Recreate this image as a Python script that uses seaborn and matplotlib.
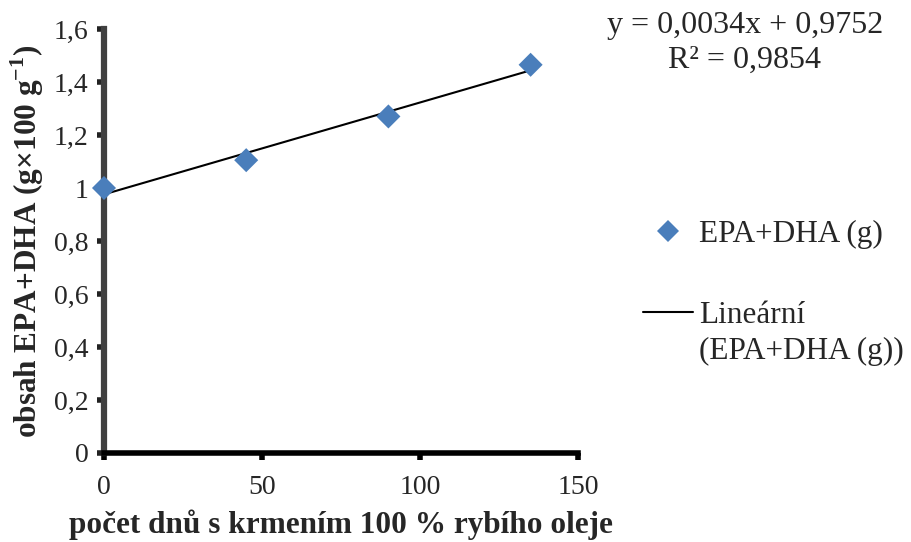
import matplotlib
matplotlib.use("Agg")
import matplotlib.pyplot as plt
import seaborn as sns
import numpy as np
import pandas as pd
from matplotlib.lines import Line2D

days = [0, 45, 90, 135]
epa_dha = [1.0, 1.105, 1.27, 1.465]
x_ticks = [0, 50, 100, 150]
y_ticks = [0, 0.2, 0.4, 0.6, 0.8, 1.0, 1.2, 1.4, 1.6]
y_tick_labels = ["0", "0,2", "0,4", "0,6", "0,8", "1", "1,2", "1,4", "1,6"]
series_label = "EPA+DHA (g)"
trend_label_1 = "Lineární"
trend_label_2 = "(EPA+DHA (g))"
equation_text = "y = 0,0034x + 0,9752"
r2_text = "R² = 0,9854"

sns.set_theme(style="white")
plt.rcParams["font.family"] = ["Liberation Serif", "DejaVu Serif"]
plt.rcParams["mathtext.fontset"] = "custom"
plt.rcParams["mathtext.rm"] = "Liberation Serif"
plt.rcParams["mathtext.bf"] = "Liberation Serif:bold"

df = pd.DataFrame({"days": days, "val": epa_dha})

fig = plt.figure(figsize=(9.12, 5.42), dpi=100)
ax = fig.add_axes([104/912, 1-453/542, (578-104)/912, (453-29)/542])

sns.regplot(data=df, x="days", y="val", ci=None, scatter=False, truncate=True,
            line_kws=dict(color="black", lw=1.5, zorder=3), ax=ax)
sns.scatterplot(data=df, x="days", y="val", marker="D", s=150, color="#4a7ebb",
                edgecolor="none", ax=ax, zorder=4, clip_on=False)

ax.set_xlim(0, 150)
ax.set_ylim(0, 1.6)
ax.set_xticks(x_ticks)
ax.set_xticklabels([str(t) for t in x_ticks])
ax.set_yticks(y_ticks)
ax.set_yticklabels(y_tick_labels)

for s in ["top", "right"]:
    ax.spines[s].set_visible(False)
ax.spines["left"].set_color("#404040")
ax.spines["left"].set_linewidth(4.5)
ax.spines["bottom"].set_color("black")
ax.spines["bottom"].set_linewidth(4)
ax.tick_params(axis="y", direction="out", length=5, width=4, color="#222222",
               labelsize=20, pad=6, left=True)
ax.tick_params(axis="x", direction="out", length=5, width=4, color="black",
               labelsize=20, pad=11, bottom=True)

ax.set_xlabel("počet dnů s krmením 100 % rybího oleje", fontsize=22.5,
              fontweight="bold", labelpad=7)
ax.set_ylabel("obsah EPA+DHA (g×100 g$^{\\mathbf{-1}}$)", fontsize=22.5,
              fontweight="bold", labelpad=6)

fig.text(745/912, 1-25/542, equation_text, ha="center", va="center", fontsize=23)
fig.text(745/912, 1-60/542, r2_text, ha="center", va="center", fontsize=23)

handles = [
    Line2D([], [], marker="D", color="#4a7ebb", ls="none", markersize=11,
           markeredgewidth=0),
    Line2D([], [], color="black", lw=1.5),
]
leg = fig.legend(handles, [series_label, trend_label_1], loc="upper left",
                 bbox_to_anchor=(643/912, 1-220/542), frameon=False,
                 fontsize=22.5, handlelength=1.6, handletextpad=0.2,
                 labelspacing=1.65, borderaxespad=0, borderpad=0)

fig.canvas.draw()
t = leg.get_texts()[1]
bb = t.get_window_extent()
fig.text(bb.x0 / 912, (bb.y0 - 36 + bb.height / 2) / 542, trend_label_2,
         ha="left", va="center", fontsize=22.5)

fig.savefig("out.png", dpi=100)
